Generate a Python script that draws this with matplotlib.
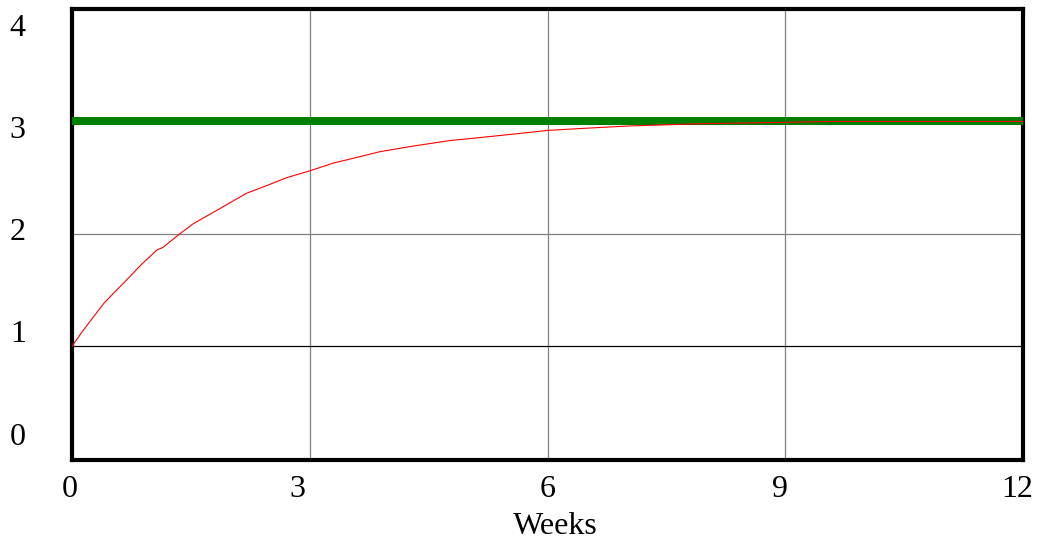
import numpy as np
import matplotlib as mpl
mpl.use('Agg')
import matplotlib.pyplot as plt

## Data

weeks = [0, 0.14, 0.27, 0.40, 0.55, 0.69, 0.88, 1.07, 1.15, 1.36, 1.53, 1.83, 2.2, 2.46,
         2.71, 3.0, 3.3, 3.63, 3.88, 4.3, 4.77, 5.2, 5.61, 6.0, 6.5, 7.04, 7.95, 9.65, 12]
value = [1.0, 1.14, 1.26, 1.38, 1.49, 1.59, 1.73, 1.855, 1.88, 2.0, 2.09, 2.21, 2.36, 2.43,
         2.50, 2.56, 2.63, 2.686, 2.73, 2.78, 2.83, 2.86, 2.89, 2.92, 2.94, 2.96, 2.98, 3.0, 3.0]

target = 3.0          # flat green line

x_ticks = [0, 3, 6, 9, 12]
y_ticks = [0, 1, 2, 3, 4]

# label placement (vensim style, labels not centred on the grid)
x_label_pos = [-0.025, 2.84, 6.0, 8.93, 11.92]
y_label_pos = [0.19, 1.10, 2.01, 2.92, 3.83]

## Plot

plt.rcParams['font.family'] = ['Liberation Serif', 'DejaVu Serif']

fig = plt.figure(figsize=(10.38, 5.42), dpi=100)
ax = fig.add_axes([0.0694, 0.1513, 0.9162, 0.832])

ax.plot([0, 12], [target, target], color='#008000', linewidth=5.8,
        solid_capstyle='butt', zorder=3)
ax.plot(weeks, value, color='#ff0000', linewidth=0.8, zorder=4)

ax.set_xlim(0, 12)
ax.set_ylim(-0.013, 4.0)
ax.set_xticks(x_ticks)
ax.set_yticks(y_ticks)
ax.set_xticklabels([])
ax.set_yticklabels([])
ax.tick_params(length=0)

ax.grid(True, color='#808080', linewidth=0.9)
ax.get_ygridlines()[1].set_color('black')

for s in ax.spines.values():
    s.set_linewidth(3.0)
    s.set_color('black')

for i in range(len(x_ticks)):
    ax.text(x_label_pos[i], -0.066, str(x_ticks[i]), transform=ax.get_xaxis_transform(),
            ha='center', va='center', fontsize=23)
for i in range(len(y_ticks)):
    ax.text(-0.057, y_label_pos[i], str(y_ticks[i]), transform=ax.get_yaxis_transform(),
            ha='center', va='center', fontsize=23)

ax.text(6.1, -0.147, 'Weeks', transform=ax.get_xaxis_transform(),
        ha='center', va='center', fontsize=23)

plt.savefig('out.png', dpi=100)
plt.close('all')
